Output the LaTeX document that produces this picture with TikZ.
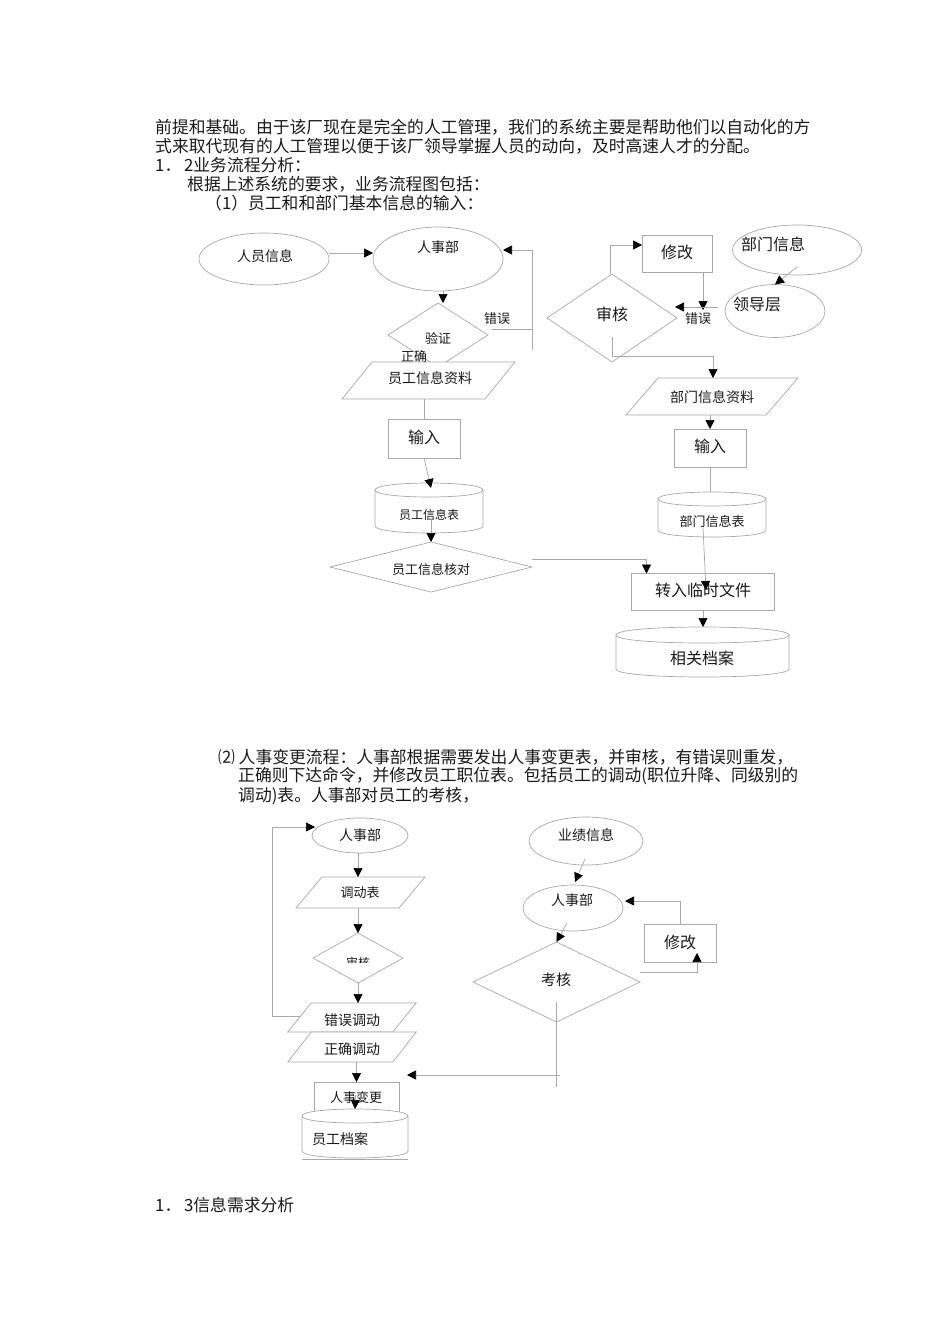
\documentclass[tikz,border=0pt]{standalone}
\usepackage{fontspec}
\setmainfont{Noto Sans CJK SC}
\usetikzlibrary{arrows.meta,shapes.geometric,calc}
\definecolor{lg}{HTML}{A9A9A9}
\definecolor{tx}{HTML}{1A1A1A}
\newcommand{\dia}[5]{%
 \filldraw[line,fill=white] (#2-#4/2,#3) -- (#2,#3-#5/2) -- (#2+#4/2,#3) -- (#2,#3+#5/2) -- cycle;
 \node[box0,minimum width=#4pt,minimum height=#5pt] (#1) at (#2,#3) {};}
\newcommand{\para}[6]{%
 \filldraw[line,fill=white] (#2-#4/2+#6/2,#3-#5/2) -- (#2+#4/2+#6/2,#3-#5/2) -- (#2+#4/2-#6/2,#3+#5/2) -- (#2-#4/2-#6/2,#3+#5/2) -- cycle;
 \node[box0,minimum width=#4pt,minimum height=#5pt] (#1) at (#2,#3) {};}
\newcommand{\cyl}[6]{%
 \pgfmathsetmacro\cyL{#2-#4/2}\pgfmathsetmacro\cyR{#2+#4/2}%
 \pgfmathsetmacro\cyT{#3-#5/2+#6}\pgfmathsetmacro\cyB{#3+#5/2-#6}%
 \pgfmathsetmacro\cyK{4/3*#6}%
 \filldraw[line,fill=white] (\cyL,\cyT) -- (\cyL,\cyB) .. controls (\cyL,\cyB+\cyK) and (\cyR,\cyB+\cyK) .. (\cyR,\cyB) -- (\cyR,\cyT) .. controls (\cyR,\cyT-\cyK) and (\cyL,\cyT-\cyK) .. (\cyL,\cyT) -- cycle;
 \draw[line] (\cyL,\cyT) .. controls (\cyL,\cyT+\cyK) and (\cyR,\cyT+\cyK) .. (\cyR,\cyT);
 \node[box0,minimum width=#4pt,minimum height=#5pt] (#1) at (#2,#3) {};}
\begin{document}
\begin{tikzpicture}[x=1pt,y=-1pt,
 line/.style={draw=lg,line width=0.7pt},
 arr/.style={draw=lg,line width=0.7pt,-{Triangle[length=9pt,width=9pt,color=black]}},
 box0/.style={rectangle,inner sep=0pt,outer sep=0pt},
 ell/.style={ellipse,draw=lg,line width=0.7pt,fill=white,inner sep=0pt,outer sep=0pt},
 rbox/.style={rectangle,draw=lg,line width=0.7pt,fill=white,inner sep=0pt,outer sep=0pt},
 body/.style={anchor=west,inner sep=0pt,text=tx,font=\fontsize{16.8}{20}\selectfont},
 t12/.style={inner sep=0pt,text=tx,font=\fontsize{12}{14}\selectfont},
 t13/.style={inner sep=0pt,text=tx,font=\fontsize{13}{15}\selectfont},
 t14/.style={inner sep=0pt,text=tx,font=\fontsize{14}{16}\selectfont},
 t15/.style={inner sep=0pt,text=tx,font=\fontsize{15}{17}\selectfont},
 t16/.style={inner sep=0pt,text=tx,font=\fontsize{16}{18}\selectfont}]
\fill[white] (0,0) rectangle (950,1344);
\useasboundingbox (0,0) rectangle (950,1344);
% body text
\node[body] (p1) at (155,127) {前提和基础。由于该厂现在是完全的人工管理，我们的系统主要是帮助他们以自动化的方};
\node[body] (p2) at (155,146) {式来取代现有的人工管理以便于该厂领导掌握人员的动向，及时高速人才的分配。};
\node[body] (p3) at (155,165) {1．\,2业务流程分析：};
\node[body] (p4) at (187,184) {根据上述系统的要求，业务流程图包括：};
\node[body] (p5) at (205,203) {（1）员工和和部门基本信息的输入：};
\node[body] (q1) at (218,757) {⑵ 人事变更流程：人事部根据需要发出人事变更表，并审核，有错误则重发，};
\node[body] (q2) at (238,776) {正确则下达命令，并修改员工职位表。包括员工的调动(职位升降、同级别的};
\node[body] (q3) at (238,796) {调动)表。人事部对员工的考核，};
\node[body] (q4) at (155,1205) {1．\,3信息需求分析};
% diagram 1 shapes
\node[ell,minimum width=130pt,minimum height=52pt] (ryxx) at (264,259) {};
\node[ell,minimum width=130pt,minimum height=64pt] (rsb1) at (438,259) {};
\dia{yz}{438}{335}{100}{64}
\node[t13] (tzq) at (414,357) {正确};
\para{yg}{428.5}{380.5}{143}{37}{30}
\node[rbox,minimum width=72pt,minimum height=39pt] (sr1) at (424,438.5) {};
\cyl{ygb}{429}{508}{108}{50}{7}
\dia{hd}{431}{567}{202}{50}
\node[rbox,minimum width=70pt,minimum height=37pt] (xg1) at (677,253.5) {};
\dia{sh1}{612}{318}{130}{88}
\node[ell,minimum width=129pt,minimum height=50pt] (bmxx) at (797,250) {};
\node[ell,minimum width=100pt,minimum height=53pt] (ldc) at (775,311) {};
\para{bmzl}{712}{396.5}{140}{37}{32}
\node[rbox,minimum width=72pt,minimum height=38pt] (sr2) at (710,448) {};
\cyl{bmb}{712}{514.5}{108}{45}{7}
\node[rbox,minimum width=143pt,minimum height=37pt] (zr) at (703,592) {};
\cyl{xgda}{702.5}{652}{173}{50}{8}
% diagram 2 shapes
\node[ell,minimum width=96pt,minimum height=35pt] (rsb2) at (360,835.5) {};
\para{ddb}{360.5}{892.5}{103}{31}{26}
\dia{sh2}{358}{958}{90}{50}
\para{cw}{352}{1017.5}{105}{29}{23.5}
\para{zq}{352}{1047}{105}{30}{23.5}
\node[rbox,minimum width=85pt,minimum height=32pt] (rsbg) at (356.5,1098) {};
\cyl{ygda}{355}{1133.5}{106}{49}{7}
\draw[line] ($(ygda.south west)+(0,1.5)$) -- ($(ygda.south east)+(0,1.5)$);
\node[ell,minimum width=114pt,minimum height=48pt] (yjxx) at (586,841) {};
\node[ell,minimum width=100pt,minimum height=46pt] (rsb3) at (573,908) {};
\dia{kh}{556.5}{982}{167}{80}
\node[rbox,minimum width=72pt,minimum height=38pt] (xg2) at (680,943) {};
% texts diagram 1
\node[t14] (t1) at (265,256) {人员信息};
\node[t14] (t2) at (438,247) {人事部};
\node[t13] (t3) at (438,338) {验证};
\node[t13] (t4) at (497,319) {错误};
\node[t14] (t5) at (430,378) {员工信息资料};
\node[t16] (t6) at (424,437) {输入};
\node[t12] (t7) at (429,515) {员工信息表};
\node[t13] (t8) at (431,570) {员工信息核对};
\node[t16] (t9) at (677,252) {修改};
\node[t16] (t10) at (612,314) {审核};
\node[t16] (t11) at (773,244) {部门信息};
\node[t16] (t12) at (757,304) {领导层};
\node[t13] (t13) at (698,319) {错误};
\node[t14] (t14) at (712,397) {部门信息资料};
\node[t16] (t15) at (710,446) {输入};
\node[t13] (t16) at (712,522) {部门信息表};
\node[t16] (t17) at (703,590) {转入临时文件};
\node[t16] (t18) at (702,658) {相关档案};
% texts diagram 2
\node[t14] (u1) at (360,835) {人事部};
\node[t13] (u2) at (360,893) {调动表};
\begin{scope}
\clip (300,945) rectangle (420,962.5);
\node[t12] (u3) at (358,963) {审核};
\end{scope}
\node[t14] (u4) at (352,1020) {错误调动};
\node[t14] (u5) at (352,1049) {正确调动};
\node[t13] (u6) at (356,1098) {人事变更};
\node[t14] (u7) at (340,1139) {员工档案};
\node[t14] (u8) at (586,835) {业绩信息};
\node[t14] (u9) at (572,900) {人事部};
\node[t15] (u10) at (556,980) {考核};
\node[t16] (u11) at (680,942) {修改};
% connectors diagram 1
\draw[arr] ([yshift=6pt]ryxx.east) -- ([yshift=6pt]rsb1.west);
\draw[arr] ([xshift=5pt]rsb1.south) -- ([xshift=5pt]yz.north);
\coordinate (fb1) at (532,350);
\draw[arr] (fb1) |- ([yshift=9pt]rsb1.east);
\draw[line] ($(yz.east)+(4,-6)$) -- ++(40,0);
\draw[line] (sr1.north |- yg.south) -- (sr1.north);
\draw[arr] (sr1.south) -- ($(ygb.north)+(2,5)$);
\draw[arr] ($(ygb.center)+(2,12)$) -- (hd.north);
\draw[arr] ($(hd.east)+(0,-8)$) -| ($(zr.north west)+(15,0)$);
\draw[arr] ($(sh1.north)+(-2,0)$) |- ($(xg1.west)+(0,-8.5)$);
\draw[arr] ($(xg1.south)+(26,0)$) -- ++(0,38);
\draw[arr] ($(bmxx.south)+(0,-8)$) -- (ldc.north);
\draw[arr] ($(ldc.west)+(-7,-4)$) -- ($(sh1.east)+(-2,-11)$);
\draw[arr] ($(sh1.center)+(0,19)$) |- ($(bmzl.north)+(1,-22)$) -- ($(bmzl.north)+(1,0)$);
\draw[arr] (sr2.north |- bmzl.south) -- (sr2.north);
\draw[line] (sr2.south) -- (sr2.south |- bmb.north);
\draw[arr] ($(bmb.center)+(-9,13)$) -- ($(zr.center)+(3,-2)$);
\draw[arr] (zr.south) -- (zr.south |- xgda.north);
% connectors diagram 2
\draw[arr] ($(rsb2.south)+(-2,0)$) -- ($(ddb.north)+(-2.5,0)$);
\draw[arr] (sh2.north |- ddb.south) -- (sh2.north);
\draw[arr] (sh2.south) -- (sh2.south |- cw.north);
\draw[arr] ($(cw.west)+(0,-1.5)$) -- ++(-27,0) |- ($(rsb2.west)+(3,-8.5)$);
\draw[arr] (rsbg.north |- zq.south) -- (rsbg.north);
\draw[arr] ($(rsbg.center)+(-1,-3)$) -- (ygda.north);
\draw[arr] ($(yjxx.south)+(-1,-6)$) -- ($(rsb3.north)+(2,-3)$);
\draw[arr] ($(rsb3.center)+(-6,15)$) -- (kh.north);
\draw[line] ($(kh.center)+(0,20)$) -- ++(0,85);
\draw[arr] ($(kh.center)+(3.5,93)$) -- ($(rsbg.east)+(8,-23)$);
\draw[arr] (xg2.north) |- ($(rsb3.east)+(2,-7)$);
\draw[arr] ($(kh.east)+(0,-10)$) -| ($(xg2.south)+(17,-9)$);
\end{tikzpicture}
\end{document}
